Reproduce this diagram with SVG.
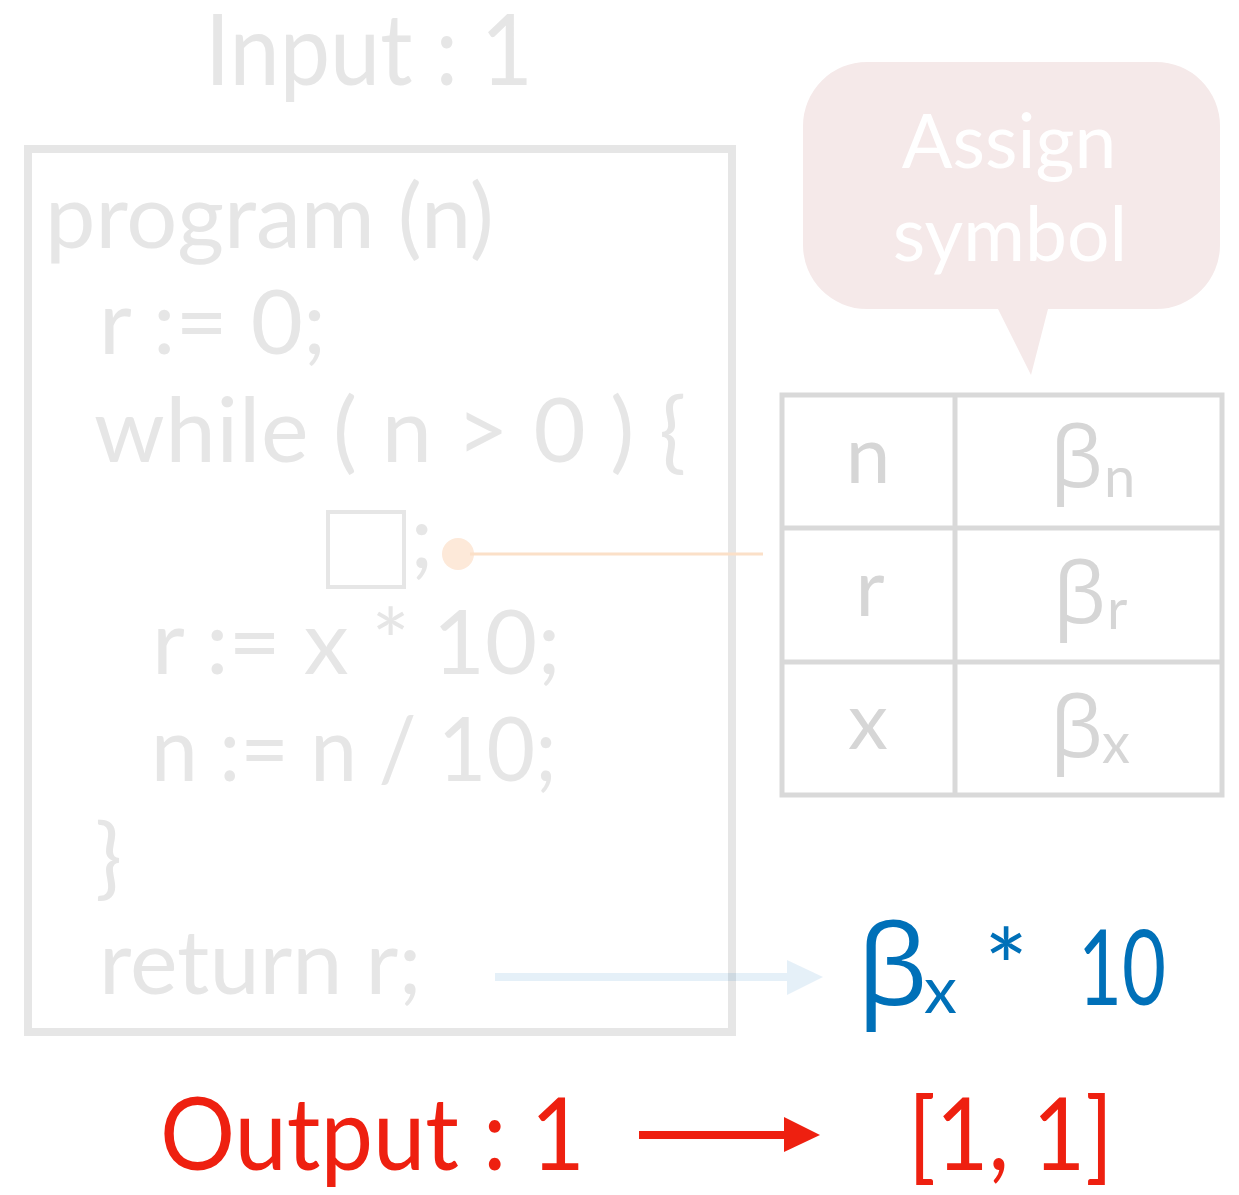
<svg xmlns="http://www.w3.org/2000/svg" width="1239" height="1195" viewBox="0 0 1239 1195">
  <style>
    text { font-family: Lato, "Open Sans", "Noto Sans", sans-serif; }
    .code { fill: #e6e6e6; font-size: 90px; }
    .tbl { fill: #d6d6d6; font-size: 80px; text-anchor: middle; }
    .beta { fill: #d6d6d6; font-size: 84px; font-family: "Open Sans", "Noto Sans", sans-serif; }
    .sub { fill: #d6d6d6; font-size: 56px; }
    .bubtxt { fill: #ffffff; font-size: 75px; text-anchor: middle; }
    .red { fill: #ee2010; font-size: 100px; }
    .blue { fill: #0070b8; font-size: 104px; }
  </style>
  <rect width="1239" height="1195" fill="#ffffff"/>

  <g id="input-label">
    <text class="code" x="205" y="85" style="font-size:98px" textLength="328" lengthAdjust="spacingAndGlyphs">Input : 1</text>
  </g>

  <g id="program">
    <rect x="28" y="149" width="704" height="883" fill="none" stroke="#e6e6e6" stroke-width="8"/>
    <text class="code" x="45" y="248">program (n)</text>
    <text class="code" x="99" y="354">r := 0;</text>
    <text class="code" x="94" y="462" textLength="592" lengthAdjust="spacing">while ( n &gt; 0 ) {</text>
    <rect x="328" y="512" width="76" height="75" fill="none" stroke="#e6e6e6" stroke-width="4"/>
    <text class="code" x="410" y="568">;</text>
    <text class="code" x="152" y="674">r := x * 10;</text>
    <text class="code" x="151" y="781" textLength="406" lengthAdjust="spacingAndGlyphs">n := n / 10;</text>
    <text class="code" x="95" y="888">}</text>
    <text class="code" x="99" y="994">return r;</text>
  </g>

  <g id="bubble">
    <path d="M 867 62 H 1156 A 64 64 0 0 1 1220 126 V 245 A 64 64 0 0 1 1156 309 H 1048 L 1031 375 L 998 309 H 867 A 64 64 0 0 1 803 245 V 126 A 64 64 0 0 1 867 62 Z" fill="#f5e9e9"/>
    <text class="bubtxt" x="1009" y="168">Assign</text>
    <text class="bubtxt" x="1010" y="261">symbol</text>
  </g>

  <g id="symbol-table">
    <rect x="782" y="395" width="440" height="400" fill="none" stroke="#d9d9d9" stroke-width="5"/>
    <line x1="955" y1="395" x2="955" y2="795" stroke="#d9d9d9" stroke-width="5"/>
    <line x1="782" y1="528" x2="1222" y2="528" stroke="#d9d9d9" stroke-width="5"/>
    <line x1="782" y1="662" x2="1222" y2="662" stroke="#d9d9d9" stroke-width="5"/>
    <text class="tbl" x="868" y="483">n</text>
    <text class="tbl" x="870" y="616">r</text>
    <text class="tbl" x="868" y="749">x</text>
    <text class="beta" x="1050" y="487">β</text><text class="sub" x="1104" y="497">n</text>
    <text class="beta" x="1053" y="623">β</text><text class="sub" x="1107" y="629">r</text>
    <text class="beta" x="1050" y="757">β</text><text class="sub" x="1102" y="763">x</text>
  </g>

  <g id="result">
    <text class="blue" x="857" y="1005" style="font-family:'Open Sans','Noto Sans',sans-serif;font-size:112px">β</text>
    <text class="blue" x="924" y="1013" style="font-size:66px">x</text>
    <text class="blue" x="984" y="1005">*</text>
    <text class="blue" x="1078" y="1005" textLength="88" lengthAdjust="spacingAndGlyphs">10</text>
  </g>

  <g id="output">
    <text class="red" x="160" y="1170" textLength="425" lengthAdjust="spacingAndGlyphs">Output : 1</text>
    <text class="red" x="908" y="1170" textLength="205" lengthAdjust="spacingAndGlyphs">[1, 1]</text>
  </g>

  <g id="connectors">
    <circle cx="458" cy="554" r="16" fill="#fde9d9"/>
    <line x1="470" y1="554" x2="763" y2="554" stroke="#fbe0c8" stroke-width="3"/>
    <g fill="#0070b8" fill-opacity="0.1">
      <rect x="495" y="973" width="292" height="8"/>
      <polygon points="787,960 823,977 787,995"/>
    </g>
    <g fill="#ee2010">
      <rect x="639" y="1131" width="146" height="8"/>
      <polygon points="784,1117 820,1135 784,1152"/>
    </g>
  </g>
</svg>
